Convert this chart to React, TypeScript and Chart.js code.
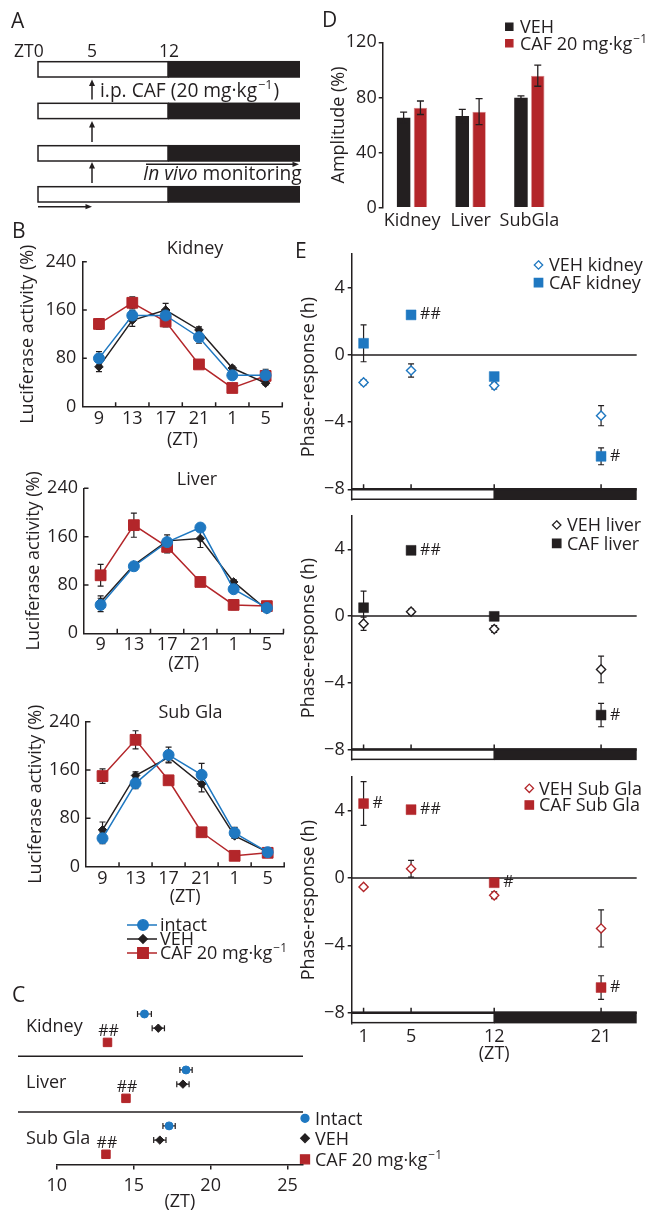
import React, { useEffect, useRef } from 'react';
import { Chart, registerables } from 'chart.js';

Chart.register(...registerables);

const FONT = "'Open Sans', 'DejaVu Sans', sans-serif";
const INK = '#231f20';
const BLUE = '#1f78c1';
const RED = '#b3262a';

Chart.defaults.font.family = FONT;
Chart.defaults.font.size = 18;
Chart.defaults.color = INK;

// ---------------- Panel B data ----------------
const B_ZT_LABELS = ['9', '13', '17', '21', '1', '5'];
const B_Y_MAX = 240;
const B_Y_STEP = 80;
const B_SERIES = ['intact', 'VEH', 'CAF 20 mg·kg'];

const KIDNEY_INTACT = [80, 151, 151, 115, 52, 52];
const KIDNEY_INTACT_ERR = [11, 8, 8, 10, 5, 10];
const KIDNEY_VEH = [66, 143, 160, 127, 64, 39];
const KIDNEY_VEH_ERR = [8, 10, 11, 5, 3, 3];
const KIDNEY_CAF = [137, 172, 141, 70, 31, 51];
const KIDNEY_CAF_ERR = [9, 10, 9, 3, 3, 4];

const LIVER_INTACT = [47, 111, 151, 175, 73, 42];
const LIVER_INTACT_ERR = [11, 3, 5, 6, 4, 3];
const LIVER_VEH = [52, 113, 153, 157, 85, 39];
const LIVER_VEH_ERR = [10, 3, 10, 15, 4, 3];
const LIVER_CAF = [96, 179, 143, 85, 47, 45];
const LIVER_CAF_ERR = [18, 20, 10, 3, 8, 3];

const SUBGLA_INTACT = [47, 138, 185, 152, 56, 24];
const SUBGLA_INTACT_ERR = [9, 9, 13, 19, 9, 3];
const SUBGLA_VEH = [61, 151, 181, 137, 51, 24];
const SUBGLA_VEH_ERR = [13, 6, 8, 13, 4, 3];
const SUBGLA_CAF = [150, 210, 143, 57, 18, 23];
const SUBGLA_CAF_ERR = [12, 15, 3, 3, 3, 3];

// ---------------- Panel C data ----------------
const C_GROUPS = ['Kidney', 'Liver', 'Sub Gla'];
const C_INTACT = [15.7, 18.4, 17.3];
const C_INTACT_ERR = [0.45, 0.4, 0.4];
const C_VEH = [16.6, 18.2, 16.7];
const C_VEH_ERR = [0.4, 0.4, 0.4];
const C_CAF = [13.3, 14.5, 13.2];
const C_CAF_ERR = [0.2, 0.2, 0.2];
const C_SIG = ['##', '##', '##'];
const C_LEGEND = ['Intact', 'VEH', 'CAF 20 mg·kg'];
const C_X_MIN = 10;
const C_X_MAX = 26;
const C_X_STEP = 5;

// ---------------- Panel D data ----------------
const D_CATEGORIES = ['Kidney', 'Liver', 'SubGla'];
const D_LEGEND = ['VEH', 'CAF 20 mg·kg'];
const D_VEH = [65.3, 66.5, 79.8];
const D_VEH_ERR = [4, 4.8, 1.3];
const D_CAF = [72.5, 69.7, 95.8];
const D_CAF_ERR = [4.9, 9.4, 7.7];
const D_Y_MAX = 120;
const D_Y_STEP = 40;

// ---------------- Panel E data ----------------
const E_ZT = [1, 5, 12, 21];
const E_Y_TICKS = [-8, -4, 0, 4];
const E_X_MIN = 0;
const E_LIGHTS_OFF = 12;
const E_X_MAX = 24;
const E_Y_MAX = 6;
const E_Y_MIN = -8.64; // bottom edge of the light/dark bar

const KIDNEY_VEH_PR = [-1.64, -0.93, -1.83, -3.62];
const KIDNEY_VEH_PR_ERR = [0.15, 0.4, 0.2, 0.6];
const KIDNEY_CAF_PR = [0.69, 2.38, -1.29, -6.04];
const KIDNEY_CAF_PR_ERR = [1.1, 0.1, 0.15, 0.5];
const KIDNEY_SIG = ['', '##', '', '#'];

const LIVER_VEH_PR = [-0.46, 0.26, -0.78, -3.2];
const LIVER_VEH_PR_ERR = [0.4, 0.15, 0.2, 0.8];
const LIVER_CAF_PR = [0.5, 3.94, -0.02, -5.94];
const LIVER_CAF_PR_ERR = [1.0, 0.1, 0.1, 0.7];
const LIVER_SIG = ['', '##', '', '#'];

const SUBGLA_VEH_PR = [-0.53, 0.55, -1.03, -3.0];
const SUBGLA_VEH_PR_ERR = [0.1, 0.5, 0.2, 1.1];
const SUBGLA_CAF_PR = [4.42, 4.06, -0.28, -6.51];
const SUBGLA_CAF_PR_ERR = [1.3, 0.1, 0.1, 0.7];
const SUBGLA_SIG = ['#', '##', '#', '#'];

// ---------------- helpers ----------------
type Rect = { x: number; y: number; w: number; h: number };
type Area = { l: number; t: number; r: number; b: number };

function frame(rect: Rect, area: Area) {
  return {
    top: area.t - rect.y,
    right: rect.x + rect.w - area.r,
    left: area.l - rect.x,
    bottom: rect.y + rect.h - area.b,
  };
}

function baseOptions(padding: any) {
  return {
    animation: false,
    responsive: false,
    maintainAspectRatio: false,
    devicePixelRatio: 1,
    events: [],
    layout: { padding },
    plugins: { legend: { display: false }, tooltip: { enabled: false }, title: { display: false } },
  };
}

function vErr(ctx: any, x: number, yA: number, yB: number, cap: number) {
  ctx.beginPath();
  ctx.moveTo(x, yA); ctx.lineTo(x, yB);
  ctx.moveTo(x - cap, yA); ctx.lineTo(x + cap, yA);
  ctx.moveTo(x - cap, yB); ctx.lineTo(x + cap, yB);
  ctx.stroke();
}

function hErr(ctx: any, y: number, xA: number, xB: number, cap: number) {
  ctx.beginPath();
  ctx.moveTo(xA, y); ctx.lineTo(xB, y);
  ctx.moveTo(xA, y - cap); ctx.lineTo(xA, y + cap);
  ctx.moveTo(xB, y - cap); ctx.lineTo(xB, y + cap);
  ctx.stroke();
}

function drawMarker(ctx: any, kind: string, x: number, y: number, size: number, color: string, filled: boolean) {
  ctx.save();
  ctx.fillStyle = filled ? color : '#fff';
  ctx.strokeStyle = color;
  ctx.lineWidth = 1.3;
  ctx.beginPath();
  if (kind === 'circle') ctx.arc(x, y, size, 0, Math.PI * 2);
  else if (kind === 'diamond') {
    ctx.moveTo(x, y - size); ctx.lineTo(x + size, y); ctx.lineTo(x, y + size); ctx.lineTo(x - size, y); ctx.closePath();
  } else ctx.rect(x - size, y - size, 2 * size, 2 * size);
  ctx.fill();
  ctx.stroke();
  ctx.restore();
}

const negFmt = (v: any) => (v < 0 ? '\u2212' + Math.abs(v) : String(v));

// ---------------- Panel B ----------------
const B_PANELS = [
  {
    title: 'Kidney', rect: { x: 0, y: 230, w: 300, h: 223 }, area: { l: 82.3, t: 261.7, r: 282.3, b: 406.7 },
    titleX: 195, titleBase: 254, yTitleX: 28,
    series: [[KIDNEY_INTACT, KIDNEY_INTACT_ERR], [KIDNEY_VEH, KIDNEY_VEH_ERR], [KIDNEY_CAF, KIDNEY_CAF_ERR]],
  },
  {
    title: 'Liver', rect: { x: 0, y: 455, w: 300, h: 222 }, area: { l: 84, t: 488.3, r: 283.5, b: 633.3 },
    titleX: 197, titleBase: 485, yTitleX: 34,
    series: [[LIVER_INTACT, LIVER_INTACT_ERR], [LIVER_VEH, LIVER_VEH_ERR], [LIVER_CAF, LIVER_CAF_ERR]],
  },
  {
    title: 'Sub Gla', rect: { x: 0, y: 690, w: 300, h: 220 }, area: { l: 86, t: 721.7, r: 284.2, b: 866.7 },
    titleX: 190.5, titleBase: 718.3, yTitleX: 35.5,
    series: [[SUBGLA_INTACT, SUBGLA_INTACT_ERR], [SUBGLA_VEH, SUBGLA_VEH_ERR], [SUBGLA_CAF, SUBGLA_CAF_ERR]],
  },
];

const B_STYLES = [
  { color: BLUE, style: 'circle', r: 5.5 },
  { color: INK, style: 'rectRot', r: 4.3 },
  { color: RED, style: 'rect', r: 7.6 },
];

function panelBConfig(p: any) {
  const f = frame(p.rect, p.area);
  return {
    type: 'line',
    data: {
      labels: B_ZT_LABELS,
      datasets: p.series.map((s: any, i: number) => ({
        label: B_SERIES[i],
        data: s[0],
        borderColor: B_STYLES[i].color,
        backgroundColor: B_STYLES[i].color,
        pointBackgroundColor: B_STYLES[i].color,
        pointBorderColor: B_STYLES[i].color,
        pointStyle: B_STYLES[i].style,
        pointRadius: B_STYLES[i].r,
        pointBorderWidth: 1,
        borderWidth: 1.5,
        tension: 0,
        clip: false,
      })),
    },
    options: {
      ...baseOptions({ top: f.top, right: f.right, left: 0, bottom: 0 }),
      scales: {
        x: {
          type: 'category', offset: true,
          grid: { display: false, drawTicks: false },
          border: { display: true, color: INK, width: 1.5 },
          ticks: { padding: 1.2, autoSkip: false, maxRotation: 0, color: INK, font: { size: 18 } },
          title: { display: true, text: '(ZT)', color: INK, font: { size: 18 }, padding: { top: 0, bottom: 2 } },
          afterFit: (s: any) => { s.height = f.bottom; },
        },
        y: {
          type: 'linear', min: 0, max: B_Y_MAX,
          grid: { display: false, drawTicks: false },
          border: { display: true, color: INK, width: 1.5 },
          ticks: { stepSize: B_Y_STEP, padding: 6, color: INK, font: { size: 18 } },
          afterFit: (s: any) => { s.width = f.left; },
        },
      },
    },
    plugins: [{
      id: 'bDecor',
      beforeDatasetsDraw(chart: any) {
        const ctx = chart.ctx;
        const ys = chart.scales.y;
        ctx.save();
        ctx.strokeStyle = INK;
        ctx.lineWidth = 1.2;
        p.series.forEach((s: any, d: number) => {
          const meta = chart.getDatasetMeta(d);
          meta.data.forEach((el: any, i: number) => {
            vErr(ctx, el.x, ys.getPixelForValue(s[0][i] + s[1][i]), ys.getPixelForValue(s[0][i] - s[1][i]), 3);
          });
        });
        ctx.restore();
      },
      afterDraw(chart: any) {
        const ctx = chart.ctx;
        const { left, top, bottom } = chart.chartArea;
        const xs = chart.scales.x;
        const ys = chart.scales.y;
        ctx.save();
        ctx.strokeStyle = INK;
        ctx.lineWidth = 1.5;
        ctx.beginPath();
        for (let i = 0; i < B_ZT_LABELS.length; i++) {
          const px = xs.getPixelForValue(i + 0.5);
          ctx.moveTo(px, bottom); ctx.lineTo(px, bottom - 4.5);
        }
        ys.ticks.forEach((t: any) => {
          if (t.value === 0) return;
          const py = ys.getPixelForValue(t.value);
          ctx.moveTo(left, py); ctx.lineTo(left + 4.5, py);
        });
        ctx.stroke();
        ctx.fillStyle = INK;
        ctx.font = `18px ${FONT}`;
        ctx.textAlign = 'center';
        ctx.textBaseline = 'alphabetic';
        ctx.fillText(p.title, p.titleX - p.rect.x, p.titleBase - p.rect.y);
        ctx.translate(p.yTitleX - p.rect.x, (top + bottom) / 2);
        ctx.rotate(-Math.PI / 2);
        ctx.textBaseline = 'middle';
        ctx.fillText('Luciferase activity (%)', 0, 0);
        ctx.restore();
      },
    }],
  };
}

// ---------------- Panel C ----------------
const C_RECT = { x: 0, y: 990, w: 330, h: 224 };
const C_AREA = { l: 56.7, t: 999.8, r: 303, b: 1164.5 };
const C_GROUP_STEP = 3.94; // rows per tissue block (3 rows + gap)

function panelCConfig() {
  const f = frame(C_RECT, C_AREA);
  const rows = (vals: number[], s: number) => vals.map((v, g) => ({ x: v, y: g * C_GROUP_STEP + s }));
  const series = [
    { data: rows(C_INTACT, 0), err: C_INTACT_ERR, color: BLUE, style: 'circle', r: 4 },
    { data: rows(C_VEH, 1), err: C_VEH_ERR, color: INK, style: 'rectRot', r: 4.2 },
    { data: rows(C_CAF, 2), err: C_CAF_ERR, color: RED, style: 'rect', r: 6 },
  ];
  return {
    type: 'scatter',
    data: {
      datasets: series.map((s, i) => ({
        label: C_LEGEND[i], data: s.data,
        pointStyle: s.style, pointRadius: s.r, pointBorderWidth: 1,
        pointBackgroundColor: s.color, pointBorderColor: s.color, backgroundColor: s.color, borderColor: s.color,
        clip: false,
      })),
    },
    options: {
      ...baseOptions({ top: f.top, right: f.right, left: f.left, bottom: 0 }),
      scales: {
        x: {
          type: 'linear', min: C_X_MIN, max: C_X_MAX,
          grid: { display: true, drawOnChartArea: false, drawTicks: true, tickLength: 5, color: INK, lineWidth: 1.5 },
          border: { display: true, color: INK, width: 1.5 },
          ticks: { stepSize: C_X_STEP, includeBounds: false, padding: 6, color: INK, font: { size: 18 } },
          title: { display: true, text: '(ZT)', color: INK, font: { size: 18 }, padding: { top: 0, bottom: 1.2 } },
          afterFit: (s: any) => { s.height = f.bottom; },
        },
        y: { type: 'linear', display: false, reverse: true, min: -1, max: 10.6 },
      },
    },
    plugins: [{
      id: 'cDecor',
      beforeDatasetsDraw(chart: any) {
        const ctx = chart.ctx;
        const xs = chart.scales.x;
        const ys = chart.scales.y;
        ctx.save();
        ctx.strokeStyle = INK;
        ctx.lineWidth = 1.5;
        for (let g = 1; g < C_GROUPS.length; g++) {
          const py = ys.getPixelForValue(g * C_GROUP_STEP - (C_GROUP_STEP - 2) / 2);
          ctx.beginPath(); ctx.moveTo(18, py); ctx.lineTo(chart.chartArea.right, py); ctx.stroke();
        }
        ctx.lineWidth = 1.2;
        series.forEach((s) => {
          s.data.forEach((pt, i) => {
            hErr(ctx, ys.getPixelForValue(pt.y), xs.getPixelForValue(pt.x - s.err[i]), xs.getPixelForValue(pt.x + s.err[i]), 3);
          });
        });
        ctx.fillStyle = INK;
        ctx.font = `18px ${FONT}`;
        ctx.textAlign = 'left';
        ctx.textBaseline = 'middle';
        C_GROUPS.forEach((name, g) => ctx.fillText(name, 26, ys.getPixelForValue(g * C_GROUP_STEP + 1) - 1));
        ctx.font = `16px ${FONT}`;
        ctx.textAlign = 'center';
        series[2].data.forEach((pt, g) => {
          ctx.fillText(C_SIG[g], xs.getPixelForValue(pt.x) + 1, ys.getPixelForValue(pt.y) - 11);
        });
        ctx.restore();
      },
    }],
  };
}

// ---------------- Panel D ----------------
const D_RECT = { x: 310, y: 0, w: 260, h: 240 };
const D_AREA = { l: 382.7, t: 42.3, r: 558.7, b: 207.7 };

function panelDConfig() {
  const f = frame(D_RECT, D_AREA);
  const errs = [D_VEH_ERR, D_CAF_ERR];
  return {
    type: 'bar',
    data: {
      labels: D_CATEGORIES,
      datasets: [
        { label: D_LEGEND[0], data: D_VEH, backgroundColor: INK, borderColor: INK, borderWidth: 0, categoryPercentage: 0.573, barPercentage: 0.8 },
        { label: D_LEGEND[1], data: D_CAF, backgroundColor: RED, borderColor: '#d88a8c', borderWidth: 0.8, categoryPercentage: 0.573, barPercentage: 0.8 },
      ],
    },
    options: {
      ...baseOptions({ top: f.top, right: f.right, left: 0, bottom: 0 }),
      scales: {
        x: {
          type: 'category',
          grid: { display: false, drawTicks: false },
          border: { display: false },
          ticks: { padding: 2.5, autoSkip: false, maxRotation: 0, minRotation: 0, color: INK, font: { size: 18 } },
          afterFit: (s: any) => { s.height = f.bottom; },
        },
        y: {
          type: 'linear', min: 0, max: D_Y_MAX,
          grid: { display: true, drawOnChartArea: false, drawTicks: true, tickLength: 4, color: INK, lineWidth: 1.5 },
          border: { display: true, color: INK, width: 1.5 },
          ticks: { stepSize: D_Y_STEP, padding: 2, color: INK, font: { size: 18 } },
          title: { display: true, text: 'Amplitude (%)', color: INK, font: { size: 18 }, padding: { top: 17.7, bottom: 0 } },
          afterFit: (s: any) => { s.width = f.left; },
        },
      },
    },
    plugins: [{
      id: 'dDecor',
      afterDatasetsDraw(chart: any) {
        const ctx = chart.ctx;
        const ys = chart.scales.y;
        ctx.save();
        ctx.strokeStyle = INK;
        ctx.lineWidth = 1.3;
        errs.forEach((err, d) => {
          const vals = chart.data.datasets[d].data;
          chart.getDatasetMeta(d).data.forEach((bar: any, i: number) => {
            vErr(ctx, bar.x, ys.getPixelForValue(vals[i] + err[i]), ys.getPixelForValue(vals[i] - err[i]), 3.5);
          });
        });
        ctx.restore();
      },
    }],
  };
}

// ---------------- Panel E ----------------
const E_PANELS = [
  {
    rect: { x: 290, y: 240, w: 375, h: 275 }, area: { l: 351.7, t: 254.1, r: 636.7, b: 500 }, color: BLUE,
    veh: KIDNEY_VEH_PR, vehErr: KIDNEY_VEH_PR_ERR, caf: KIDNEY_CAF_PR, cafErr: KIDNEY_CAF_PR_ERR, sig: KIDNEY_SIG,
    labels: ['VEH kidney', 'CAF kidney'], showX: false,
  },
  {
    rect: { x: 290, y: 500, w: 375, h: 275 }, area: { l: 351.7, t: 516, r: 636.7, b: 760.1 }, color: INK,
    veh: LIVER_VEH_PR, vehErr: LIVER_VEH_PR_ERR, caf: LIVER_CAF_PR, cafErr: LIVER_CAF_PR_ERR, sig: LIVER_SIG,
    labels: ['VEH liver', 'CAF liver'], showX: false,
  },
  {
    rect: { x: 290, y: 763, w: 375, h: 302 }, area: { l: 351.7, t: 777, r: 636.7, b: 1023.4 }, color: RED,
    veh: SUBGLA_VEH_PR, vehErr: SUBGLA_VEH_PR_ERR, caf: SUBGLA_CAF_PR, cafErr: SUBGLA_CAF_PR_ERR, sig: SUBGLA_SIG,
    labels: ['VEH Sub Gla', 'CAF Sub Gla'], showX: true,
  },
];

function panelEConfig(p: any) {
  const f = frame(p.rect, p.area);
  const pts = (vals: number[]) => vals.map((v, i) => ({ x: E_ZT[i], y: v }));
  const errs = [p.vehErr, p.cafErr];
  return {
    type: 'scatter',
    data: {
      datasets: [
        { label: p.labels[0], data: pts(p.veh), pointStyle: 'rectRot', pointRadius: 4.6, pointBorderWidth: 1.4, pointBorderColor: p.color, pointBackgroundColor: '#fff', borderColor: p.color, backgroundColor: '#fff', clip: false },
        { label: p.labels[1], data: pts(p.caf), pointStyle: 'rect', pointRadius: 7, pointBorderWidth: 0.5, pointBorderColor: p.color, pointBackgroundColor: p.color, borderColor: p.color, backgroundColor: p.color, clip: false },
      ],
    },
    options: {
      ...baseOptions({ top: f.top, right: f.right, left: 0, bottom: 0 }),
      scales: {
        x: {
          type: 'linear', min: E_X_MIN, max: E_X_MAX,
          grid: { display: false, drawTicks: false },
          border: { display: false },
          afterBuildTicks: (s: any) => { s.ticks = E_ZT.map((v) => ({ value: v })); },
          ticks: { display: p.showX, padding: 2.5, autoSkip: false, maxRotation: 0, color: INK, font: { size: 18 } },
          title: { display: p.showX, text: '(ZT)', color: INK, font: { size: 18 }, padding: { top: 0, bottom: 0.2 } },
          afterFit: (s: any) => { s.height = f.bottom; },
        },
        y: {
          type: 'linear', min: E_Y_MIN, max: E_Y_MAX,
          grid: { display: true, drawOnChartArea: false, drawTicks: true, tickLength: 4, color: INK, lineWidth: 1.5 },
          border: { display: true, color: INK, width: 1.5 },
          afterBuildTicks: (s: any) => { s.ticks = E_Y_TICKS.map((v) => ({ value: v })); },
          ticks: { padding: 3, color: INK, font: { size: 18 }, callback: (v: any) => negFmt(v) },
          title: { display: true, text: 'Phase-response (h)', color: INK, font: { size: 18 }, padding: { top: 8.2, bottom: 0 } },
          afterFit: (s: any) => { s.width = f.left; },
        },
      },
    },
    plugins: [{
      id: 'eDecor',
      beforeDatasetsDraw(chart: any) {
        const ctx = chart.ctx;
        const xs = chart.scales.x;
        const ys = chart.scales.y;
        const a = chart.chartArea;
        const yTop = ys.getPixelForValue(E_Y_TICKS[0]);
        const yBot = ys.getPixelForValue(E_Y_MIN);
        const xL = xs.getPixelForValue(E_X_MIN);
        const xM = xs.getPixelForValue(E_LIGHTS_OFF);
        const xR = xs.getPixelForValue(E_X_MAX);
        ctx.save();
        ctx.fillStyle = '#fff';
        ctx.fillRect(xL, yTop, xM - xL, yBot - yTop);
        ctx.strokeStyle = INK;
        ctx.lineWidth = 1.5;
        ctx.strokeRect(xL, yTop, xM - xL, yBot - yTop - 0.75);
        ctx.fillStyle = INK;
        ctx.fillRect(xM, yTop - 1, xR - xM, yBot - yTop + 1);
        ctx.lineWidth = 2.5;
        ctx.beginPath(); ctx.moveTo(xL, yTop); ctx.lineTo(xR, yTop); ctx.stroke();
        ctx.lineWidth = 1.5;
        ctx.beginPath();
        const y0 = ys.getPixelForValue(0);
        ctx.moveTo(a.left, y0); ctx.lineTo(a.right, y0);
        E_ZT.forEach((v) => { const px = xs.getPixelForValue(v); ctx.moveTo(px, yTop); ctx.lineTo(px, yTop - 5); });
        ctx.stroke();
        ctx.lineWidth = 1.2;
        errs.forEach((err: number[], d: number) => {
          const vals = chart.data.datasets[d].data;
          vals.forEach((pt: any, i: number) => {
            vErr(ctx, xs.getPixelForValue(pt.x), ys.getPixelForValue(pt.y + err[i]), ys.getPixelForValue(pt.y - err[i]), 3);
          });
        });
        ctx.restore();
      },
      afterDatasetsDraw(chart: any) {
        const ctx = chart.ctx;
        ctx.save();
        ctx.fillStyle = INK;
        ctx.font = `16px ${FONT}`;
        ctx.textAlign = 'left';
        ctx.textBaseline = 'middle';
        chart.getDatasetMeta(1).data.forEach((el: any, i: number) => {
          if (p.sig[i]) ctx.fillText(p.sig[i], el.x + 9, el.y);
        });
        ctx.restore();
      },
    }],
  };
}

const E_LEGENDS = [
  { markerX: 538.5, textX: 549, rows: [265, 282.7] },
  { markerX: 556.7, textX: 567, rows: [525, 543.3] },
  { markerX: 529.3, textX: 539, rows: [788.3, 805] },
];

// ---------------- overlay (schematic, panel letters, legends) ----------------
function drawOverlay(ctx: CanvasRenderingContext2D) {
  ctx.clearRect(0, 0, 665, 1214);
  const t = (s: string, x: number, y: number, size = 18, align: any = 'left', style = '') => {
    ctx.font = `${style} ${size}px ${FONT}`.trim();
    ctx.textAlign = align;
    ctx.textBaseline = 'alphabetic';
    ctx.fillStyle = INK;
    ctx.fillText(s, x, y);
    return ctx.measureText(s).width;
  };
  const sup = (base: string, x: number, y: number, size = 18) => {
    const w = t(base, x, y, size);
    const w2 = t('\u22121', x + w + 1, y - size * 0.4, size * 0.66);
    return w + w2 + 1;
  };
  const line = (x0: number, y0: number, x1: number, y1: number, lw = 1.5, color = INK) => {
    ctx.strokeStyle = color; ctx.lineWidth = lw;
    ctx.beginPath(); ctx.moveTo(x0, y0); ctx.lineTo(x1, y1); ctx.stroke();
  };
  const tri = (pts: number[][]) => {
    ctx.fillStyle = INK;
    ctx.beginPath(); ctx.moveTo(pts[0][0], pts[0][1]); ctx.lineTo(pts[1][0], pts[1][1]); ctx.lineTo(pts[2][0], pts[2][1]); ctx.closePath(); ctx.fill();
  };
  const arrowUp = (x: number, y0: number, y1: number) => { line(x, y0, x, y1 + 4); tri([[x, y1], [x - 3, y1 + 6.5], [x + 3, y1 + 6.5]]); };
  const arrowRight = (x0: number, x1: number, y: number) => { line(x0, y, x1 - 4, y); tri([[x1, y], [x1 - 6.5, y - 2.6], [x1 - 6.5, y + 2.6]]); };

  // panel letters
  t('A', 11, 28, 21); t('B', 12, 238, 21); t('C', 12, 1002, 21); t('D', 322, 27, 21); t('E', 295, 258, 21);

  // ---- panel A schematic ----
  t('ZT0', 14, 56.5, 17.5); t('5', 92, 56.5, 17.5, 'center'); t('12', 169, 56.5, 17.5, 'center');
  [61.7, 103.3, 145.7, 186.7].forEach((y) => {
    ctx.fillStyle = '#fff'; ctx.fillRect(38, y, 130, 15.3);
    ctx.strokeStyle = INK; ctx.lineWidth = 1.5; ctx.strokeRect(38, y, 130, 15.3);
    ctx.fillStyle = INK; ctx.fillRect(168, y - 0.75, 132, 16.8);
  });
  arrowUp(92, 99.5, 79.5); arrowUp(92, 142, 121); arrowUp(92, 183, 162);
  const w1 = sup('i.p. CAF (20 mg·kg', 100, 97, 19.2);
  t(')', 100 + w1 + 1, 97, 19.2);
  arrowRight(146, 299, 164.3);
  const wi = t('In vivo', 143, 180, 19.2, 'left', 'italic');
  t(' monitoring', 143 + wi, 180, 19.2);
  arrowRight(38, 92, 206.7);

  // ---- panel B legend ----
  const bKinds = ['circle', 'diamond', 'square'];
  const bColors = [BLUE, INK, RED];
  const bSizes = [5.3, 4.3, 5.3];
  [925, 939, 953].forEach((y, i) => {
    line(127, y, 157, y, 1.5, bColors[i]);
    drawMarker(ctx, bKinds[i], 143, y, bSizes[i], bColors[i], true);
    if (i === 2) sup(B_SERIES[i], 160, y + 6.4);
    else t(B_SERIES[i], 160, y + 6.4);
  });

  // ---- panel C legend ----
  const cSizes = [4, 4.3, 4.5];
  [1118.3, 1138.3, 1159.3].forEach((y, i) => {
    drawMarker(ctx, bKinds[i], 305, y, cSizes[i], bColors[i], true);
    if (i === 2) sup(C_LEGEND[i], 315, y + 6.4);
    else t(C_LEGEND[i], 315, y + 6.4);
  });

  // ---- panel D legend ----
  [26.7, 43.3].forEach((y, i) => {
    drawMarker(ctx, 'square', 509.3, y, 3.6, i === 0 ? INK : RED, true);
    if (i === 1) sup(D_LEGEND[i], 520, y + 6.4);
    else t(D_LEGEND[i], 520, y + 6.4);
  });

  // ---- panel E legends ----
  E_LEGENDS.forEach((lg, k) => {
    const p = E_PANELS[k];
    drawMarker(ctx, 'diamond', lg.markerX, lg.rows[0], 4.2, p.color, false);
    t(p.labels[0], lg.textX, lg.rows[0] + 6.4);
    drawMarker(ctx, 'square', lg.markerX, lg.rows[1], 4.2, p.color, true);
    t(p.labels[1], lg.textX, lg.rows[1] + 6.4);
  });
}

// ---------------- components ----------------
function ChartBox({ rect, make }: { rect: Rect; make: () => any }) {
  const ref = useRef<HTMLCanvasElement>(null);
  useEffect(() => {
    const chart = new Chart(ref.current as HTMLCanvasElement, make());
    return () => chart.destroy();
  }, []);
  return (
    <canvas
      ref={ref}
      width={rect.w}
      height={rect.h}
      style={{ position: 'absolute', left: rect.x, top: rect.y, width: rect.w, height: rect.h }}
    />
  );
}

export default function App() {
  const overlayRef = useRef<HTMLCanvasElement>(null);
  useEffect(() => {
    const c = overlayRef.current;
    if (!c) return;
    const ctx = c.getContext('2d');
    if (ctx) drawOverlay(ctx);
  }, []);
  return (
    <div style={{ position: 'absolute', left: 0, top: 0, width: 665, height: 1214, background: '#fff', overflow: 'hidden' }}>
      <canvas ref={overlayRef} width={665} height={1214} style={{ position: 'absolute', left: 0, top: 0, width: 665, height: 1214 }} />
      {B_PANELS.map((p, i) => (
        <ChartBox key={'b' + i} rect={p.rect} make={() => panelBConfig(p)} />
      ))}
      <ChartBox rect={C_RECT} make={panelCConfig} />
      <ChartBox rect={D_RECT} make={panelDConfig} />
      {E_PANELS.map((p, i) => (
        <ChartBox key={'e' + i} rect={p.rect} make={() => panelEConfig(p)} />
      ))}
    </div>
  );
}
